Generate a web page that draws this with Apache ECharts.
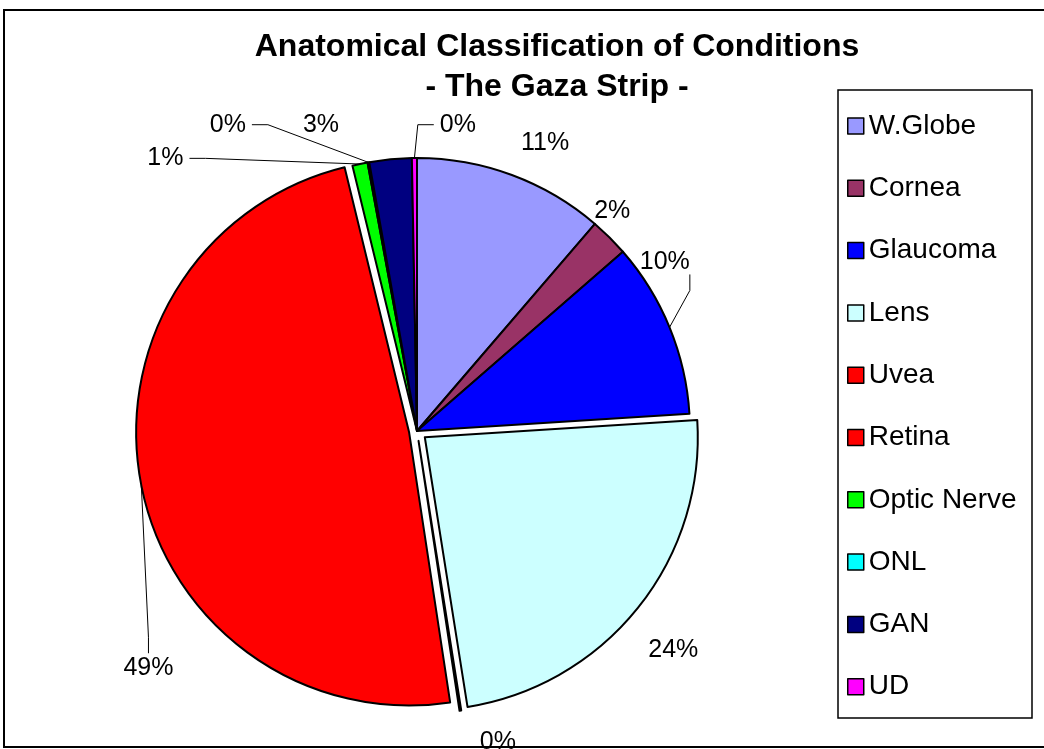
<!DOCTYPE html>
<html>
<head>
<meta charset="utf-8">
<title>Anatomical Classification of Conditions</title>
<script src="https://cdn.jsdelivr.net/npm/echarts@6/dist/echarts.min.js"></script>
<style>
  html, body { margin: 0; padding: 0; background: #fff; }
  #chart { width: 1044px; height: 749px; }
</style>
</head>
<body>
<div id="chart"></div>
<script>
// categories, clockwise from 12 o'clock
var categories = ['W.Globe', 'Cornea', 'Glaucoma', 'Lens', 'Uvea', 'Retina', 'Optic Nerve', 'ONL', 'GAN', 'UD']
var shares = [11.3, 2.3, 10.4, 23.5, 0.1, 48.6, 0.9, 0.1, 2.5, 0.3]
var colors = ['#9999FF', '#993366', '#0000FF', '#CCFFFF', '#FF0000', '#FF0000', '#00FF00', '#00FFFF', '#000080', '#FF00FF']
// slices pulled out of the pie and by how much (px)
var exploded = { 'Lens': 10, 'Uvea': 10, 'Retina': 8 }

// where each label sits: [angle from 12 o'clock, distance from pie centre, side the leader line ends on]
var labelSpots = [
  [24, 315, null],
  [41.6, 294, null],
  [55.7, 300, 'bottom'],
  [130.5, 337, null],
  [165.4, 321, null],
  [228.6, 358, 'top'],
  [317.3, 371, 'right'],
  [328.3, 360, 'right'],
  [342.6, 321, null],
  [7.6, 309, 'left']
]

var font = '"Liberation Sans", Arial, sans-serif'
var cx = 417
var cy = 431
var R = 273
var clear = 'rgba(0,0,0,0)'

var chart = echarts.init(document.getElementById('chart'))

function dir(deg) {
  var r = deg * Math.PI / 180
  return [Math.sin(r), -Math.cos(r)]
}

// mid angle of each slice
var total = shares.reduce(function(a, b) { return a + b }, 0)
var midAngles = []
var acc = 0
shares.forEach(function(v) {
  midAngles.push((acc + v / 2) / total * 360)
  acc += v
})

function placeLabel(p) {
  var i = p.dataIndex
  var spot = labelSpots[i]
  var d = dir(spot[0])
  var x = cx + spot[1] * d[0]
  var y = cy + spot[1] * d[1]
  var res = { x: x, y: y, align: 'center', verticalAlign: 'middle' }
  var side = spot[2]
  if (side) {
    var w = p.labelRect.width / 2
    var h = p.labelRect.height / 2
    var end, elbow
    if (side === 'bottom') { end = [x + w, y + h]; elbow = [x + w, y + h + 16] }
    if (side === 'top') { end = [x, y - h - 2]; elbow = [x, y - h - 18] }
    if (side === 'right') { end = [x + w + 6, y]; elbow = [x + w + 22, y] }
    if (side === 'left') { end = [x - w - 6, y]; elbow = [x - w - 22, y] }
    var m = dir(midAngles[i])
    var off = exploded[categories[i]] || 0
    var arc = [cx + (R + off) * m[0], cy + (R + off) * m[1]]
    res.labelLinePoints = [arc, elbow, end]
  }
  return res
}

var baseSeries = {
  type: 'pie',
  radius: R,
  startAngle: 90,
  clockwise: true,
  percentPrecision: 0,
  avoidLabelOverlap: false,
  emphasis: { disabled: true },
  itemStyle: { borderColor: '#000', borderWidth: 2 }
}

// the pie itself, exploded slices left empty; carries all labels
var mainSeries = Object.assign({}, baseSeries, {
  center: [cx, cy],
  label: {
    show: true,
    position: 'outside',
    formatter: '{d}%',
    fontFamily: font,
    fontSize: 25,
    color: '#000'
  },
  labelLine: {
    length: 10,
    length2: 10,
    lineStyle: { color: '#000', width: 1 }
  },
  labelLayout: placeLabel,
  data: categories.map(function(name, i) {
    var out = exploded[name] !== undefined
    return {
      name: name,
      value: shares[i],
      itemStyle: out ? { color: clear, borderWidth: 0 } : { color: colors[i] },
      labelLine: { show: !!labelSpots[i][2] }
    }
  })
})

// one shifted copy of the pie for each exploded slice
var explodedSeries = Object.keys(exploded).map(function(key) {
  var k = categories.indexOf(key)
  var m = dir(midAngles[k])
  return Object.assign({}, baseSeries, {
    center: [cx + exploded[key] * m[0], cy + exploded[key] * m[1]],
    label: { show: false },
    labelLine: { show: false },
    tooltip: { show: false },
    data: categories.map(function(name, i) {
      return {
        name: name,
        value: shares[i],
        itemStyle: i === k ? { color: colors[i] } : { color: clear, borderWidth: 0 }
      }
    })
  })
})

chart.setOption({
  animation: false,
  backgroundColor: '#fff',
  title: {
    text: 'Anatomical Classification of Conditions\n- The Gaza Strip -',
    left: 552,
    top: 22,
    textAlign: 'center',
    textStyle: {
      fontFamily: font,
      fontSize: 32,
      fontWeight: 'bold',
      color: '#000',
      lineHeight: 40
    }
  },
  legend: {
    orient: 'vertical',
    left: 847,
    top: 112,
    padding: 0,
    itemWidth: 16,
    itemHeight: 16,
    itemGap: 34.3,
    itemTextGap: 10,
    icon: 'rect',
    selectedMode: false,
    data: categories.map(function(name, i) {
      return { name: name, itemStyle: { color: colors[i], borderColor: '#000', borderWidth: 1.5 } }
    }),
    textStyle: { fontFamily: font, fontSize: 28, color: '#000', lineHeight: 28 }
  },
  graphic: [
    { // outer chart frame
      type: 'rect',
      shape: { x: 4, y: 10, width: 1060, height: 737 },
      style: { fill: null, stroke: '#000', lineWidth: 2 },
      silent: true
    },
    { // legend frame
      type: 'rect',
      shape: { x: 838, y: 90, width: 194, height: 628 },
      style: { fill: null, stroke: '#000', lineWidth: 1.5 },
      silent: true
    }
  ],
  series: [mainSeries].concat(explodedSeries)
})
</script>
</body>
</html>
